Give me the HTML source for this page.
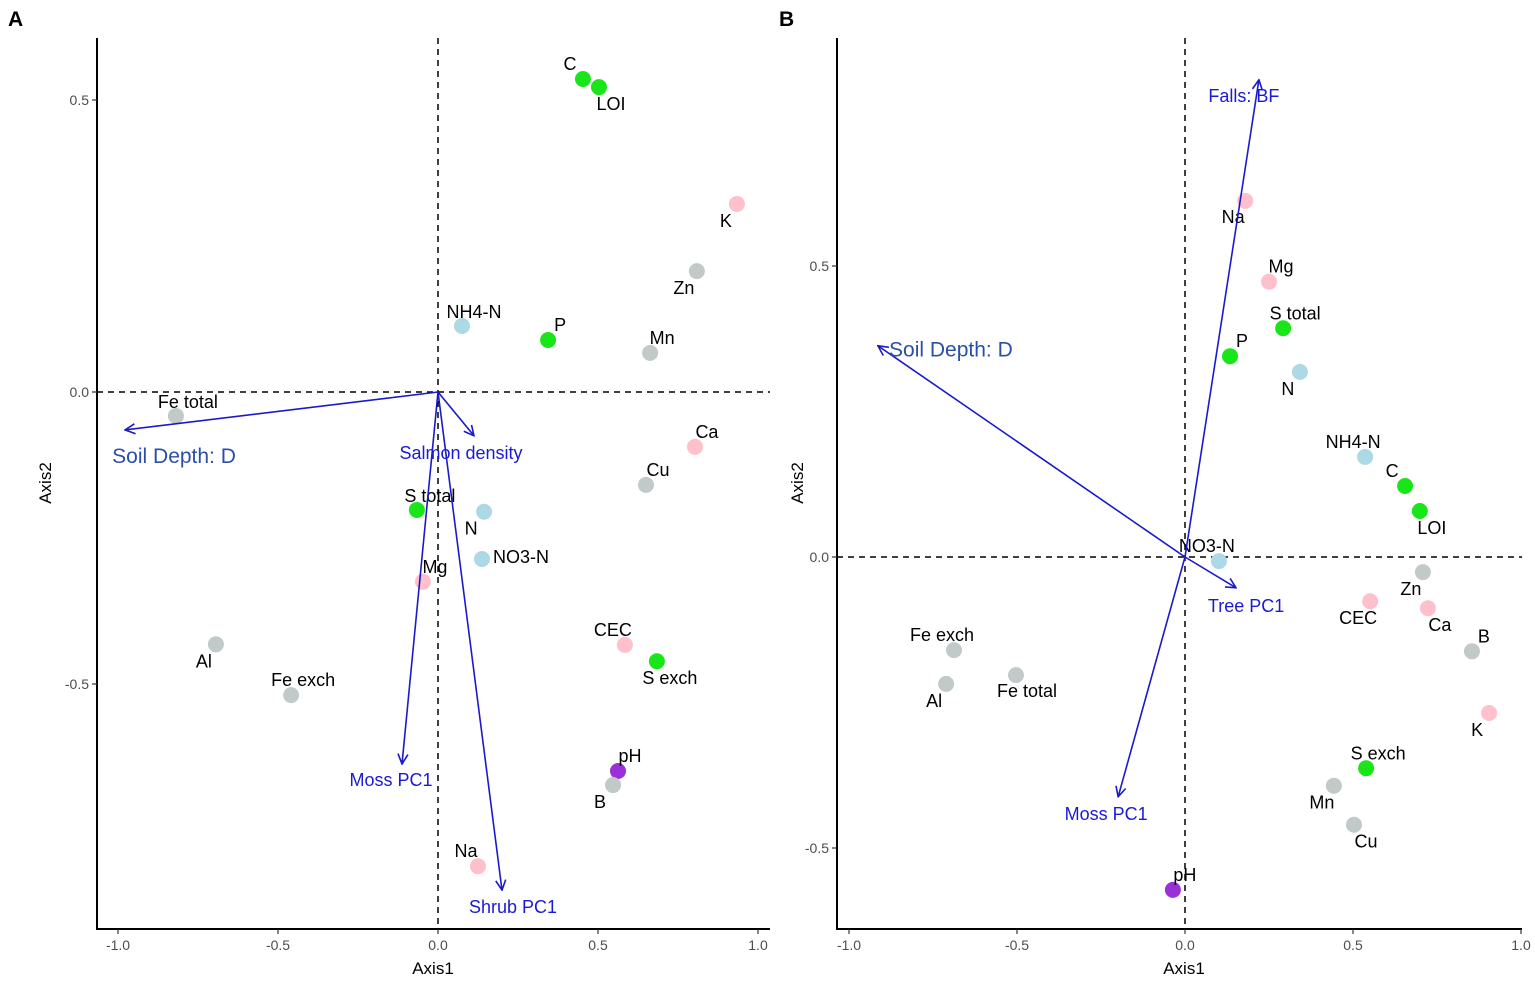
<!DOCTYPE html>
<html><head><meta charset="utf-8"><style>
html,body{margin:0;padding:0;background:#fff}
svg{display:block}
text{font-family:"Liberation Sans",sans-serif}
</style></head><body>
<svg id="s" width="1535" height="985" viewBox="0 0 1535 985"></svg>
<script>
// ---- Panel A data ----
const aLabels=["C","LOI","K","Zn","NH4-N","P","Mn","Fe total","Ca","Cu","S total","N","NO3-N","Mg","Al","Fe exch","CEC","S exch","pH","B","Na"];
const aX=[0.453,0.503,0.934,0.809,0.075,0.344,0.663,-0.819,0.803,0.650,-0.066,0.144,0.1375,-0.047,-0.694,-0.459,0.584,0.684,0.5625,0.547,0.125];
const aY=[0.536,0.522,0.322,0.207,0.113,0.089,0.067,-0.041,-0.094,-0.159,-0.202,-0.205,-0.286,-0.325,-0.432,-0.519,-0.433,-0.461,-0.649,-0.673,-0.812];
const aGroup=["g","g","p","s","b","g","s","s","p","s","g","b","b","p","s","s","p","g","v","s","p"];
const aArrowLabels=["Soil Depth: D","Salmon density","Moss PC1","Shrub PC1"];
const aArrowX=[-0.978,0.1125,-0.1125,0.2];
const aArrowY=[-0.065,-0.075,-0.637,-0.853];
// ---- Panel B data ----
const bLabels=["Na","Mg","S total","P","N","NH4-N","C","LOI","NO3-N","Zn","CEC","Ca","B","K","Fe exch","Al","Fe total","S exch","Mn","Cu","pH"];
const bX=[0.179,0.25,0.292,0.134,0.342,0.536,0.655,0.699,0.101,0.708,0.551,0.723,0.854,0.905,-0.6875,-0.711,-0.503,0.539,0.443,0.503,-0.036];
const bY=[0.612,0.473,0.393,0.345,0.318,0.172,0.122,0.079,-0.007,-0.026,-0.076,-0.088,-0.162,-0.268,-0.160,-0.218,-0.203,-0.363,-0.393,-0.46,-0.572];
const bGroup=["p","p","g","g","b","b","g","g","b","s","p","p","s","p","s","s","s","g","s","s","v"];
const bArrowLabels=["Falls: BF","Soil Depth: D","Tree PC1","Moss PC1"];
const bArrowX=[0.22,-0.914,0.152,-0.199];
const bArrowY=[0.82,0.363,-0.053,-0.412];
const ticks=[-1.0,-0.5,0.0,0.5,1.0];
const tickText=["-1.0","-0.5","0.0","0.5","1.0"];
const yTicks=[-0.5,0.0,0.5];
const yTickText=["-0.5","0.0","0.5"];

// style/layout (not data)
const colors={g:"#19e619",p:"#ffc0cb",s:"#c2c9c9",b:"#add8e6",v:"#9b30d9"};
const aOff=[[-13,-15],[12,17],[-11,17],[-13,17],[12,-14],[12,-15],[12,-15],[12,-14],[12,-15],[12,-15],[13,-14],[-13,17],[39,-2],[12,-15],[-12,17],[12,-15],[-12,-15],[13,17],[12,-15],[-13,17],[-12,-15]];
const bOff=[[-12,16],[12,-15],[12,-15],[12,-15],[-12,17],[-12,-15],[-13,-15],[12,17],[-12,-15],[-12,17],[-12,17],[12,17],[12,-15],[-12,17],[-12,-15],[-12,17],[11,16],[12,-15],[-12,17],[12,17],[12,-15]];
const aArrOff=[[49,27],[-13,17],[-11,16],[11,17]];
const bArrOff=[[-15,16],[73,5],[10,18],[-12,17]];

const NS="http://www.w3.org/2000/svg";
const svg=document.getElementById('s');
function mk(tag,attrs,parent){const e=document.createElementNS(NS,tag);for(const k in attrs)e.setAttribute(k,attrs[k]);(parent||svg).appendChild(e);return e;}
const defs=mk('defs',{});
const mrk=mk('marker',{id:'ah',viewBox:'0 0 12 12',refX:'11',refY:'6',markerWidth:'12',markerHeight:'12',markerUnits:'userSpaceOnUse',orient:'auto'},defs);
mk('path',{d:'M1,1 L11,6 L1,11',fill:'none',stroke:'#1a1acc','stroke-width':'1.6'},mrk);

function panel(cfg){
  const g=mk('g',{});
  
  
  const sx=v=>cfg.x0+v*cfg.kx, sy=v=>cfg.y0-v*cfg.ky;
  const hz=mk('line',{x1:cfg.left,x2:cfg.right,y1:sy(0),y2:sy(0),stroke:'#000','stroke-width':1.5,'stroke-dasharray':'6,5'},g);
  
  const vz=mk('line',{x1:sx(0),x2:sx(0),y1:cfg.top,y2:cfg.bottom,stroke:'#000','stroke-width':1.5,'stroke-dasharray':'6,5'},g);
  
  const ax=mk('path',{d:`M${cfg.left},${cfg.top} L${cfg.left},${cfg.bottom} L${cfg.right},${cfg.bottom}`,fill:'none',stroke:'#000','stroke-width':2},g);
  
  ticks.forEach((t,i)=>{
    const x=sx(t);
    mk('line',{x1:x,x2:x,y1:cfg.bottom,y2:cfg.bottom+5,stroke:'#333','stroke-width':1.2},g);
    const tt=mk('text',{x:x,y:cfg.bottom+21,'text-anchor':'middle','font-size':14,fill:'#4d4d4d'},g);
    tt.textContent=tickText[i];
    
  });
  yTicks.forEach((t,i)=>{
    const y=sy(t);
    mk('line',{x1:cfg.left-5,x2:cfg.left,y1:y,y2:y,stroke:'#333','stroke-width':1.2},g);
    const tt=mk('text',{x:cfg.left-8,y:y+5,'text-anchor':'end','font-size':14,fill:'#4d4d4d'},g);
    tt.textContent=yTickText[i];
    
  });
  const xt=mk('text',{x:cfg.xtX,y:974,'text-anchor':'middle','font-size':17,fill:'#000'},g);
  xt.textContent='Axis1';
  const yt=mk('text',{x:0,y:0,transform:`translate(${cfg.ytX},483) rotate(-90)`,'text-anchor':'middle','font-size':17,fill:'#000'},g);
  yt.textContent='Axis2';
  const pl=mk('text',{x:cfg.letterX,y:26,'font-size':21,'font-weight':'bold',fill:'#000'},g);
  pl.textContent=cfg.letter;
  cfg.labels.forEach((lab,i)=>{
    const cx=sx(cfg.px[i]),cy=sy(cfg.py[i]);
    const c=mk('circle',{cx:cx,cy:cy,r:8,fill:colors[cfg.grp[i]]},g);
    
    
    const t=mk('text',{x:cx+cfg.off[i][0],y:cy+cfg.off[i][1]+6,'text-anchor':'middle','font-size':18,fill:'#000'},g);
    t.textContent=lab;
    
    
  });
  cfg.arrLabels.forEach((lab,i)=>{
    const ex=sx(cfg.ax[i]),ey=sy(cfg.ay[i]);
    const l=mk('line',{x1:sx(0),y1:sy(0),x2:ex,y2:ey,stroke:'#1a1acc','stroke-width':1.6,'marker-end':'url(#ah)'},g);
    
    
    const big=lab.startsWith('Soil');
    const t=mk('text',{x:ex+cfg.aoff[i][0],y:ey+cfg.aoff[i][1]+6,'text-anchor':'middle','font-size':big?21:18,fill:big?'#2a4fa8':'#1a1ad6'},g);
    t.textContent=lab;
    
    
  });
}
panel({name:'panel-a',x0:438,kx:320,y0:392,ky:584,left:97,right:770,top:38,bottom:929,xtX:433,ytX:51,letterX:8,letter:'A',
  labels:aLabels,px:aX,py:aY,grp:aGroup,off:aOff,arrLabels:aArrowLabels,ax:aArrowX,ay:aArrowY,aoff:aArrOff});
panel({name:'panel-b',x0:1185,kx:336,y0:557,ky:582,left:837,right:1522,top:38,bottom:929,xtX:1184,ytX:803,letterX:779,letter:'B',
  labels:bLabels,px:bX,py:bY,grp:bGroup,off:bOff,arrLabels:bArrowLabels,ax:bArrowX,ay:bArrowY,aoff:bArrOff});
</script>
</body></html>
